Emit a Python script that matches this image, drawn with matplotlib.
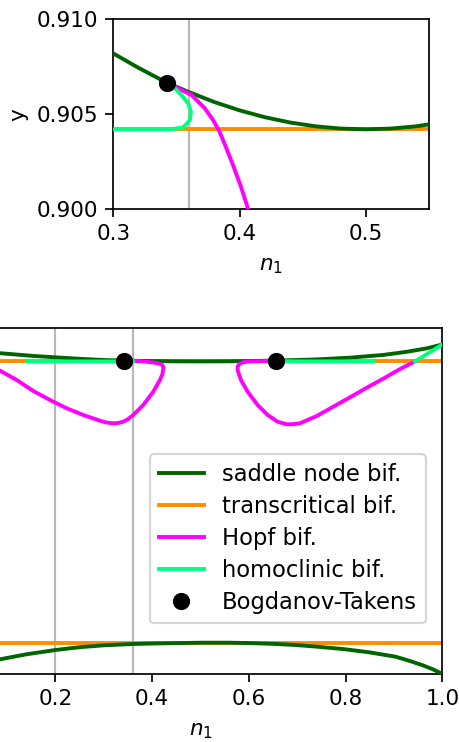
import numpy as np
import matplotlib
matplotlib.use('Agg')
import matplotlib.pyplot as plt


# ---- Data (n_1 vs y) ----

# saddle node bif., upper branch
sn_up_x = [0.05, 0.0856, 0.155, 0.2235, 0.26, 0.30, 0.32, 0.3422, 0.36, 0.38, 0.40, 0.42, 0.44,
           0.46, 0.48, 0.50, 0.52, 0.54, 0.56, 0.60, 0.657, 0.70, 0.7402, 0.8091, 0.878, 0.9263,
           0.9677, 1.0]
sn_up_y = [0.937, 0.928, 0.920, 0.914, 0.911, 0.9082, 0.90744, 0.90666, 0.90616, 0.90564, 0.9052,
           0.90484, 0.90456, 0.90436, 0.90424, 0.9042, 0.90424, 0.90436, 0.90456, 0.9053, 0.9066,
           0.9082, 0.9100, 0.915, 0.923, 0.932, 0.942, 0.953]

# saddle node bif., lower branch
sn_lo_x = [0.05, 0.0856, 0.14, 0.2, 0.25, 0.30, 0.361, 0.402, 0.50, 0.561, 0.60, 0.65, 0.697,
           0.75, 0.8, 0.85, 0.9036, 0.93, 0.958, 0.98, 1.0]
sn_lo_y = [0.030, 0.0425, 0.057, 0.0694, 0.0775, 0.083, 0.0868, 0.0882, 0.0905, 0.0905, 0.0895,
           0.0872, 0.0839, 0.078, 0.0714, 0.0625, 0.050, 0.039, 0.026, 0.014, 0.0]

# transcritical bif.
tc_levels = [0.9042, 0.0905]

# Hopf bif., left loop (starts at the first Bogdanov-Takens point)
hopf_l_x = [0.3422, 0.3501, 0.3620, 0.3725, 0.3791, 0.3840, 0.3890, 0.3949, 0.4010, 0.4068,
            0.4130, 0.4195, 0.4228, 0.4232, 0.4215, 0.4163, 0.4025, 0.3818, 0.3611, 0.3500,
            0.3405, 0.3300, 0.3198, 0.3050, 0.2923, 0.2578, 0.2235, 0.1889, 0.1544, 0.1201,
            0.0856, 0.06]
hopf_l_y = [0.90666, 0.9064, 0.90601, 0.90531, 0.90468, 0.9041, 0.9033, 0.9023, 0.9012, 0.9000,
            0.8985, 0.8955, 0.8905, 0.8850, 0.868, 0.8505, 0.8166, 0.7781, 0.7492, 0.7370,
            0.7298, 0.7262, 0.7252, 0.7275, 0.7327, 0.7492, 0.7686, 0.7926, 0.8186, 0.8505,
            0.8774, 0.897]

# Hopf bif., right loop (starts at the second Bogdanov-Takens point)
hopf_r_x = [0.657, 0.640, 0.620, 0.600, 0.587, 0.5805, 0.5770, 0.5768, 0.5837, 0.5975, 0.6182,
            0.6389, 0.6595, 0.6783, 0.6920, 0.7057, 0.7400, 0.7746, 0.8100, 0.8436, 0.8800,
            0.9124, 0.9434]
hopf_r_y = [0.9066, 0.9055, 0.9048, 0.9040, 0.9015, 0.8965, 0.8900, 0.8794, 0.8505, 0.8166, 0.7781,
            0.7492, 0.7298, 0.7223, 0.7228, 0.7252, 0.7460, 0.7732, 0.8010, 0.8280, 0.8560,
            0.8820, 0.9042]

# homoclinic bif. (three pieces)
hom_1_x = [0.3422, 0.3476, 0.3541, 0.3593, 0.3615, 0.3607, 0.3554, 0.3462, 0.30, 0.1428]
hom_1_y = [0.90666, 0.90645, 0.9060, 0.90557, 0.90513, 0.90469, 0.9043, 0.90421, 0.9042, 0.9042]
hom_2_x = [0.657, 0.67, 0.70, 0.857]
hom_2_y = [0.9066, 0.9050, 0.9043, 0.9042]
hom_3_x = [0.9434, 0.9986]
hom_3_y = [0.9042, 0.9517]

# Bogdanov-Takens points
bt_x = [0.3422, 0.657]
bt_y = [0.90666, 0.9066]

# vertical guide lines
vlines_top = [0.36]
vlines_bottom = [0.2, 0.36]

LW = 1.8


# ---- Function to draw all bifurcation curves on one axis ----

def draw_curves(ax, vlines):
    for v in vlines:
        ax.axvline(v, color='0.72', lw=1.0, zorder=1)

    ax.plot(sn_up_x, sn_up_y, color='darkgreen', lw=LW, zorder=3, label='saddle node bif.')
    ax.plot(sn_lo_x, sn_lo_y, color='darkgreen', lw=LW, zorder=3)

    for i, lev in enumerate(tc_levels):
        ax.axhline(lev, color='darkorange', lw=LW, zorder=2,
                   label='transcritical bif.' if i == 0 else None)

    ax.plot(hopf_l_x, hopf_l_y, color='magenta', lw=LW, zorder=4, label='Hopf bif.')
    ax.plot(hopf_r_x, hopf_r_y, color='magenta', lw=LW, zorder=4)

    ax.plot(hom_1_x, hom_1_y, color='springgreen', lw=LW, zorder=5, label='homoclinic bif.')
    ax.plot(hom_2_x, hom_2_y, color='springgreen', lw=LW, zorder=5)
    ax.plot(hom_3_x, hom_3_y, color='springgreen', lw=LW, zorder=5)

    ax.plot(bt_x, bt_y, 'o', color='k', ms=7, zorder=6, label='Bogdanov-Takens')


# ---- Figure ----

W, H, DPI = 459, 742, 155
fig = plt.figure(figsize=(W / DPI, H / DPI), dpi=DPI)

# zoomed panel
ax1 = fig.add_axes([113.3 / W, 1 - 209 / H, 315.6 / W, 189.7 / H])
draw_curves(ax1, vlines_top)
ax1.set_xlim(0.3, 0.55)
ax1.set_ylim(0.900, 0.910)
ax1.set_xticks([0.3, 0.4, 0.5])
ax1.set_yticks([0.900, 0.905, 0.910])
ax1.set_xlabel('$n_1$', labelpad=5.5)
ax1.set_ylabel('y')

# full panel (its left part lies outside the figure)
ax2 = fig.add_axes([-41.4 / W, 1 - 674 / H, 483.7 / W, 345.7 / H])
draw_curves(ax2, vlines_bottom)
ax2.set_xlim(0, 1)
ax2.set_ylim(0, 1)
ax2.set_xticks([0.2, 0.4, 0.6, 0.8, 1.0])
ax2.tick_params(left=False, labelleft=False)
ax2.set_xlabel('$n_1$', labelpad=5.5)

handles, labels = ax2.get_legend_handles_labels()
order = ['saddle node bif.', 'transcritical bif.', 'Hopf bif.', 'homoclinic bif.', 'Bogdanov-Takens']
hl = dict(zip(labels, handles))
ax2.legend([hl[k] for k in order], order, loc='lower right', fontsize=10.5, labelspacing=0.4,
           bbox_to_anchor=(0.9663, 0.1467), borderaxespad=0)

fig.savefig('out.png', dpi=DPI)
